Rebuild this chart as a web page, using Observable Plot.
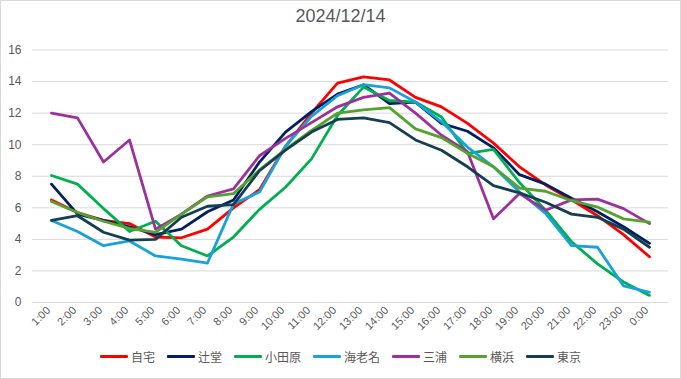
<!DOCTYPE html>
<html>
<head>
<meta charset="utf-8">
<script src="https://cdn.jsdelivr.net/npm/d3@7"></script>
<script src="https://cdn.jsdelivr.net/npm/@observablehq/plot@0.6"></script>
<style>
  body { margin: 0; background: #fff; }
  #wrap { position: relative; width: 681px; height: 379px; background: #fff; overflow: hidden; }
  #border { position: absolute; left: 0; top: 0; width: 681px; height: 379px; box-sizing: border-box; border: 1px solid #D9D9D9; pointer-events: none; }
  #title { position: absolute; left: 0; width: 681px; top: 6px; text-align: center; font-family: "Liberation Sans", Arial, sans-serif; font-size: 18px; color: #595959; }
  #plot { position: absolute; left: 0; top: 40px; }
  #legend { position: absolute; left: 0; width: 681px; top: 348px; display: flex; justify-content: center; align-items: center; gap: 12px; font-family: "Noto Sans CJK JP", sans-serif; font-size: 12px; color: #595959; }
  .item { display: flex; align-items: center; gap: 3px; }
  .sw { width: 28px; height: 3px; border-radius: 1px; }
</style>
</head>
<body>
<div id="wrap">
  <div id="title">2024/12/14</div>
  <div id="plot"></div>
  <div id="legend"></div>
  <div id="border"></div>
</div>
<script>
const hours = ["1:00","2:00","3:00","4:00","5:00","6:00","7:00","8:00","9:00","10:00","11:00","12:00","13:00","14:00","15:00","16:00","17:00","18:00","19:00","20:00","21:00","22:00","23:00","0:00"];
const yTicks = [0, 2, 4, 6, 8, 10, 12, 14, 16];

const seriesNames = ["自宅", "辻堂", "小田原", "海老名", "三浦", "横浜", "東京"];
const seriesColors = ["#FF0000", "#002060", "#00B050", "#17A3DA", "#9C319C", "#56A22E", "#153E50"];

const jitaku   = [6.5, 5.7, 5.2, 5.0, 4.15, 4.1, 4.65, 6.0, 7.15, 9.9, 12.0, 13.9, 14.3, 14.1, 13.0, 12.4, 11.35, 10.1, 8.6, 7.45, 6.5, 5.5, 4.3, 2.9];
const tsujido  = [7.5, 5.6, 5.2, 4.8, 4.3, 4.65, 5.75, 6.5, 8.9, 10.8, 12.1, 13.2, 13.8, 12.6, 12.7, 11.35, 10.85, 9.8, 8.1, 7.5, 6.6, 5.75, 4.8, 3.75];
const odawara  = [8.05, 7.5, 5.95, 4.5, 5.15, 3.6, 2.95, 4.15, 5.9, 7.3, 9.1, 11.85, 13.65, 12.8, 12.7, 11.75, 9.45, 9.7, 7.6, 5.85, 3.85, 2.45, 1.3, 0.45];
const ebina    = [5.2, 4.5, 3.6, 3.9, 2.95, 2.75, 2.5, 6.25, 7.0, 9.9, 11.8, 13.1, 13.8, 13.6, 12.7, 11.45, 9.85, 8.6, 7.0, 5.65, 3.6, 3.5, 1.05, 0.65];
const miura    = [12.0, 11.7, 8.9, 10.3, 4.65, 5.6, 6.75, 7.2, 9.3, 10.4, 11.4, 12.4, 13.0, 13.27, 12.0, 10.6, 9.55, 5.3, 6.9, 5.85, 6.5, 6.55, 5.95, 5.0];
const yokohama = [6.4, 5.7, 5.15, 4.7, 4.45, 5.6, 6.7, 6.9, 8.4, 9.7, 10.9, 12.0, 12.2, 12.35, 11.0, 10.45, 9.45, 8.6, 7.25, 7.05, 6.45, 6.05, 5.3, 5.1];
const tokyo    = [5.2, 5.5, 4.45, 3.95, 4.0, 5.4, 6.1, 6.2, 8.35, 9.65, 10.8, 11.6, 11.7, 11.4, 10.3, 9.65, 8.6, 7.4, 6.95, 6.35, 5.6, 5.4, 4.65, 3.5];

const seriesValues = [jitaku, tsujido, odawara, ebina, miura, yokohama, tokyo];

const data = [];
seriesNames.forEach((name, s) => {
  seriesValues[s].forEach((v, i) => data.push({series: name, hour: hours[i], value: v}));
});

const chart = Plot.plot({
  width: 681,
  height: 307,
  marginTop: 9.5,
  marginLeft: 32,
  marginRight: 13,
  marginBottom: 45,
  style: {fontFamily: "'Liberation Sans', Arial, sans-serif", fontSize: "11px", color: "#595959", background: "transparent"},
  x: {type: "point", domain: hours, padding: 0.5, label: null},
  y: {domain: [0, 16], label: null},
  color: {domain: seriesNames, range: seriesColors},
  marks: [
    Plot.ruleY(yTicks, {stroke: "#D9D9D9", strokeWidth: 1}),
    Plot.axisY({ticks: yTicks, tickSize: 0, tickPadding: 11, fontSize: 12, label: null}),
    Plot.axisX({tickSize: 0, tickRotate: -45, tickPadding: 6, dx: -3, fontSize: 11, label: null}),
    Plot.line(data, {x: "hour", y: "value", z: "series", stroke: "series", strokeWidth: 2.8, strokeLinejoin: "round", strokeLinecap: "round"})
  ]
});
document.getElementById("plot").appendChild(chart);

const legend = document.getElementById("legend");
seriesNames.forEach((name, i) => {
  const item = document.createElement("div");
  item.className = "item";
  const sw = document.createElement("div");
  sw.className = "sw";
  sw.style.background = seriesColors[i];
  const t = document.createElement("span");
  t.textContent = name;
  item.appendChild(sw);
  item.appendChild(t);
  legend.appendChild(item);
});
</script>
</body>
</html>
